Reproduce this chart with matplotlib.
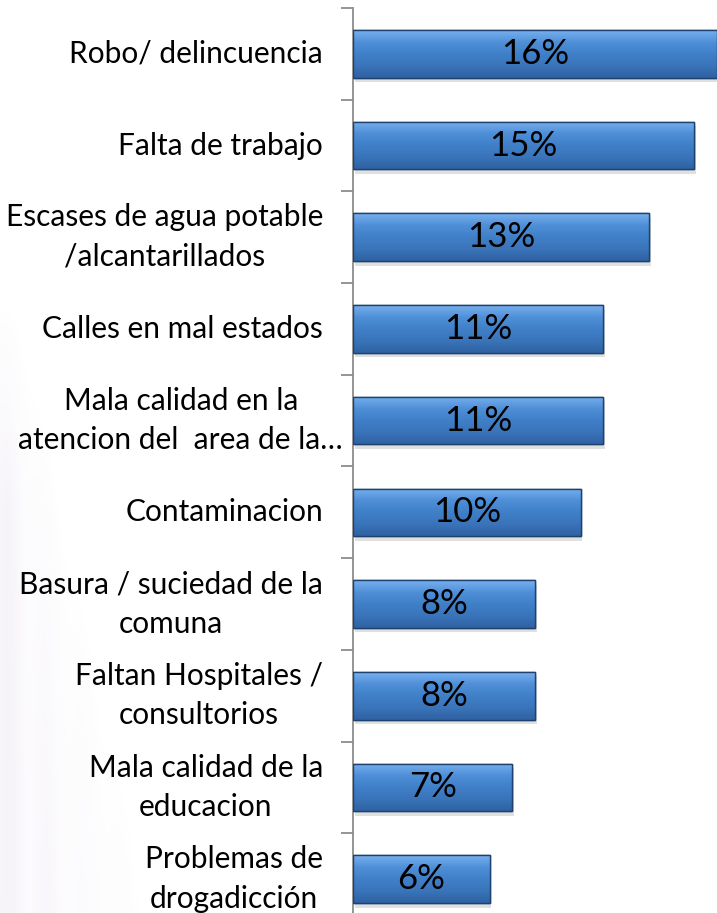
import numpy as np
import matplotlib
matplotlib.use("Agg")
import matplotlib.pyplot as plt
from matplotlib.transforms import offset_copy
from matplotlib.colors import LinearSegmentedColormap

categories = [
    "Robo/ delincuencia",
    "Falta de trabajo",
    "Escases de agua potable\n/alcantarillados",
    "Calles en mal estados",
    "Mala calidad en la\natencion del  area de la…",
    "Contaminacion",
    "Basura / suciedad de la\ncomuna",
    "Faltan Hospitales /\nconsultorios",
    "Mala calidad de la\neducacion",
    "Problemas de\ndrogadicción",
]
values = [16, 15, 13, 11, 11, 10, 8, 8, 7, 6]
value_labels = ["16%", "15%", "13%", "11%", "11%", "10%", "8%", "8%", "7%", "6%"]

plt.rcParams['font.family'] = ['Lato', 'DejaVu Sans']

W, H = 717, 913
fig = plt.figure(figsize=(W / 100, H / 100), dpi=100)
fig.patch.set_facecolor("white")

# faint lavender swoosh in background (decorative, soft)
bg = fig.add_axes([0, 0, 1, 1], zorder=-10)
bg.set_xlim(0, W); bg.set_ylim(H, 0); bg.axis("off")
gx = np.arange(0, 260)
gy = np.arange(300, H)
X, Y = np.meshgrid(gx, gy)
t = np.clip((Y - 300) / (H - 300), 0, 1)
edge = 30 + 140 * t ** 1.2
alpha = np.clip(1 - X / edge, 0, 1) ** 1.5 * np.clip(t * 3, 0, 1) * 0.10
streak = 0.75 + 0.25 * np.sin(X / 6.0)
alpha = alpha * streak
rgba = np.zeros(X.shape + (4,))
rgba[..., 0] = 0.62; rgba[..., 1] = 0.50; rgba[..., 2] = 0.75
rgba[..., 3] = alpha
bg.imshow(rgba, extent=(0, 260, H, 300), aspect="auto", interpolation="bilinear")
bg.set_xlim(0, W); bg.set_ylim(H, 0)

ax = fig.add_axes([353 / W, -12 / H, 1 - 353 / W, (925 - 8) / H])
n = len(values)
y = np.arange(n)
ax.set_xlim(0, 16.0)
ax.set_ylim(n - 0.5, -0.5)

bh = 0.52
# shadow
ax.barh(y + 0.05, values, height=bh, left=0.08, color="#000000", alpha=0.12, lw=0, zorder=1)
bars = ax.barh(y, values, height=bh, color="#3f7cc4", edgecolor="#1d426f", lw=1.0, zorder=2)

cmap = LinearSegmentedColormap.from_list("b", ["#78b0ee", "#4f8fd8", "#4080c8", "#3a74ba", "#2f62a2"])
grad = np.linspace(0, 1, 64).reshape(-1, 1)
for b in bars:
    x0, y0 = b.get_x(), b.get_y()
    w, h = b.get_width(), b.get_height()
    im = ax.imshow(grad, cmap=cmap, aspect="auto", extent=(x0, x0 + w, y0 + h, y0),
                   zorder=2.5, interpolation="bicubic")
    im.set_clip_path(b)
    ax.barh(b.get_y() + h / 2, w, height=h, left=x0, fill=False, edgecolor="#1d426f", lw=1.0, zorder=3)

for yi, v, lab in zip(y, values, value_labels):
    ax.text(v / 2, yi, lab, ha="center", va="center", fontsize=25, color="black", zorder=5)

for yi, cat in zip(y, categories):
    off = -10 if cat.startswith("Mala calidad en la") else -30
    tr = offset_copy(ax.transData, fig=fig, x=off, y=0, units="dots")
    ax.text(0, yi, cat, transform=tr, ha="right", va="center", multialignment="center",
            fontsize=21.5, linespacing=1.5, color="black", clip_on=False)

for s in ["top", "right", "bottom"]:
    ax.spines[s].set_visible(False)
ax.spines["left"].set_color("#8c8c8c")
ax.spines["left"].set_linewidth(1.3)
ax.set_xticks([])
ax.set_yticks(np.arange(-0.5, n, 1.0))
ax.set_yticklabels([])
ax.tick_params(axis="y", length=9, width=1.3, color="#8c8c8c", direction="out")
ax.patch.set_alpha(0)

fig.savefig("out.png", dpi=100)
